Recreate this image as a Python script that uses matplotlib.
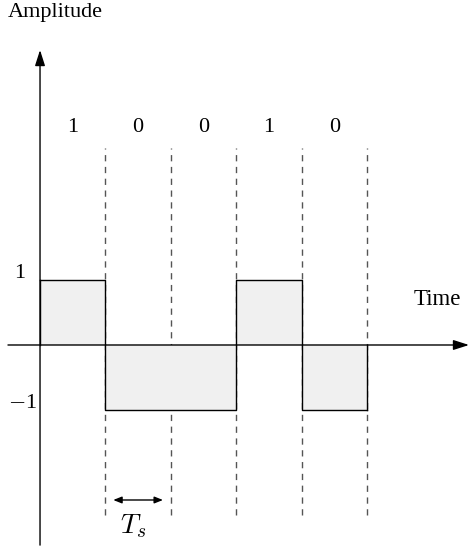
import matplotlib
matplotlib.use("Agg")
import matplotlib.pyplot as plt
import numpy as np

bits = [1, 0, 0, 1, 0]
levels = [1 if b == 1 else -1 for b in bits]
bit_labels = [str(b) for b in bits]
level_ticks = [1, -1]
level_tick_labels = ["1", "$-$1"]

plt.rcParams['mathtext.fontset'] = 'cm'
serif = ['Liberation Serif', 'DejaVu Serif']

fig = plt.figure(figsize=(4.69, 5.48), dpi=100)
ax = fig.add_axes([0, 0, 1, 1])
ax.set_xlim(-0.612, 6.56)
ax.set_ylim(-3.104, 5.275)
ax.axis('off')

n = len(bits)
edges = np.arange(n + 1)

# dashed bit boundaries
for x in edges[1:]:
    ax.plot([x, x], [-2.6, 3.01], ls=(0, (4.5, 4)), color='#555555', lw=1.0, zorder=1)

# filled signal
vals = levels + [levels[-1]]
ax.fill_between(edges, vals, 0, step='post', color='#f0f0f0', zorder=2, lw=0)
ax.plot(edges, vals, drawstyle='steps-post', color='black', lw=1.0, zorder=3)
ax.plot([0, 0], [0, levels[0]], color='black', lw=1.0, zorder=3)
ax.plot([n, n], [0, levels[-1]], color='black', lw=1.0, zorder=3)

# axes with arrows
head = '-|>,head_length=0.5,head_width=0.16'
ax.annotate('', xy=(6.56, 0), xytext=(-0.49, 0), annotation_clip=False,
            arrowprops=dict(arrowstyle=head, color='black', lw=1.0, mutation_scale=19,
                            shrinkA=0, shrinkB=0), zorder=4)
ax.annotate('', xy=(0, 4.51), xytext=(0, -3.06), annotation_clip=False,
            arrowprops=dict(arrowstyle=head, color='black', lw=1.0, mutation_scale=19,
                            shrinkA=0, shrinkB=0), zorder=4)

# bit labels
for i, lab in enumerate(bit_labels):
    ax.text(i + 0.5, 3.32, lab, ha='center', va='center', fontsize=16, family=serif)

# level labels
ax.text(-0.23, 1.1, level_tick_labels[0], ha='right', va='center', fontsize=16, family=serif)
ax.text(-0.05, -0.9, level_tick_labels[1], ha='right', va='center', fontsize=16, family=serif)

# axis titles
fig.text(8 / 469, 1 - 12 / 548, 'Amplitude', ha='left', va='center', fontsize=16, family=serif)
ax.text(5.71, 0.69, 'Time', ha='left', va='center', fontsize=16.5, family=serif)

# Ts marker
ax.annotate('', xy=(1.88, -2.37), xytext=(1.12, -2.37),
            arrowprops=dict(arrowstyle='<|-|>,head_length=0.5,head_width=0.2', color='black',
                            lw=1.0, mutation_scale=10, shrinkA=0, shrinkB=0))
ax.text(1.42, -2.77, r'$T_s$', ha='center', va='center', fontsize=20)

fig.savefig('out.png', dpi=100)
